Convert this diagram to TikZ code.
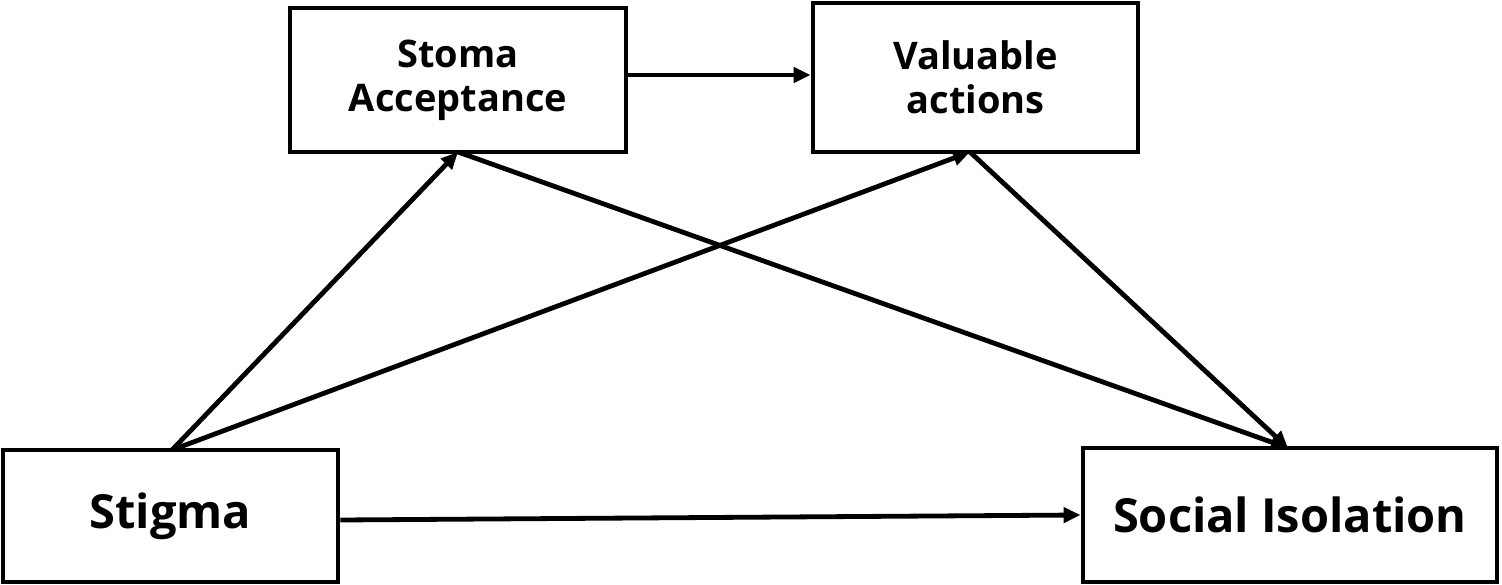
\documentclass[tikz,border=0pt]{standalone}
\usepackage{fontspec}
\setmainfont{Open Sans}
\usetikzlibrary{arrows.meta}
\begin{document}
\begin{tikzpicture}[x=1pt,y=-1pt,
  box/.style={draw=black,line width=4.8pt,fill=white,inner sep=0pt,font=\bfseries},
  conn/.style={line width=4.8pt,-{Triangle[length=17pt,width=15pt]}}]
\useasboundingbox (0,0) rectangle (1502,585);
\node[box,minimum width=336pt,minimum height=144pt,align=center,font=\bfseries\fontsize{38}{44}\selectfont] (sa) at (458,80) {Stoma\\Acceptance};
\node[box,minimum width=325pt,minimum height=149pt,align=center,font=\bfseries\fontsize{38}{44}\selectfont] (va) at (975.5,77.5) {Valuable\\actions};
\node[box,minimum width=335pt,minimum height=132pt,font=\bfseries\fontsize{47}{56}\selectfont] (st) at (170.5,516) {Stigma};
\node[box,minimum width=414pt,minimum height=134pt,font=\bfseries\fontsize{47}{56}\selectfont] (si) at (1290,515) {Social Isolation};
\coordinate (stT) at (172,450);
\coordinate (saB) at (458,152);
\coordinate (vaB) at (970,152);
\coordinate (siT) at (1288,448);
\draw[conn] (sa.east |- 0,75) -- (va.west |- 0,75);
\draw[conn] (st.east |- 0,520) -- (si.west |- 0,515);
\draw[conn] (stT) -- (saB);
\draw[conn] (stT) -- (vaB);
\draw[conn] (saB) -- (siT);
\draw[conn] (vaB) -- (siT);
\end{tikzpicture}
\end{document}
